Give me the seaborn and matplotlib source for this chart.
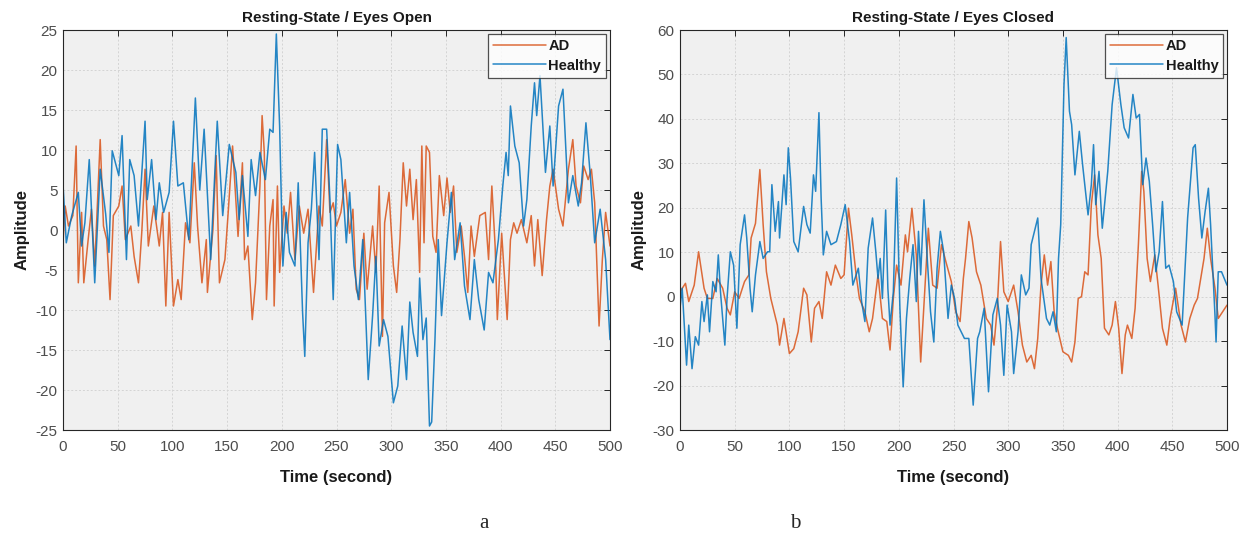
import matplotlib
matplotlib.use('Agg')
import matplotlib.pyplot as plt
import numpy as np
import pandas as pd
import seaborn as sns

# ---------- data (time in s, amplitude) ----------
# Eyes open, AD
eo_ad_t = [0, 2, 5, 9, 12, 14, 17, 19, 23, 26, 29, 34, 37, 40, 43, 46, 51, 54, 57, 62,
           65, 69, 72, 75, 78, 83, 88, 91, 94, 97, 101, 105, 108, 112, 116, 120, 123, 127,
           131, 132, 137, 140, 143, 148, 151, 155, 160, 164, 166, 169, 173, 176, 180, 182,
           184, 186, 189, 192, 193, 196, 198, 202, 205, 208, 212, 216, 220, 224, 229, 234,
           237, 241, 244, 247, 250, 254, 258, 262, 265, 268, 271, 275, 278, 283, 286, 289,
           292, 294, 298, 302, 305, 308, 311, 314, 317, 320, 323, 326, 328, 330, 332, 335,
           338, 341, 344, 348, 351, 354, 357, 360, 364, 367, 370, 373, 376, 381, 386, 389,
           392, 395, 397, 401, 406, 409, 412, 415, 419, 424, 428, 431, 434, 438, 442, 445,
           448, 453, 457, 462, 466, 469, 473, 476, 480, 483, 486, 490, 493, 496, 500]
eo_ad_v = [-1.6, 3, 0.5, 1.8, 10.5, -6.6, 2.2, -6.6, -1.2, 2.6, -4.5, 11.3, 0.5, -1.2, -8.7,
           1.8, 3, 5.5, -1.2, 0.5, -3.3, -6.6, -0.3, 7.6, -2, 3, -2, 2.2, -9.5, 2.2, -9.5,
           -6.2, -8.7, 0.9, -1.6, 8.4, 0.5, -6.6, -1.2, -7.8, 0, 9.3, -6.6, -3.7, 2.2, 10.5,
           -0.8, 8.4, -3.7, -2, -11.2, -6.6, 5.5, 14.3, 9.7, -8.7, 0.5, 3.8, -9.5, 5.5, -5.3,
           3, -0.4, 4.7, -3.7, 3, -0.4, 2.6, -7.8, 3, 0.5, 11.3, 2.2, 3.4, 0.5, 2.2, 6.3, -0.4,
           2.6, -7.4, -8.7, -0.4, -7.4, 0.5, -5.3, 5.5, -13.3, 0.9, 4.7, -4.5, -7.8, -1.2, 8.4,
           3, 7.6, 1.3, 6.3, -5.3, 10.5, -1.6, 10.5, 9.7, -0.8, -2.8, 6.8, 1.8, 6.5, 2.2, 5.5,
           -2.8, 0.5, -3.3, -7.8, 0.5, -3.3, 1.8, 2.2, -3.7, 5.5, -2, -11.2, -0.4, -11.2, -1.2,
           0.9, -0.4, 1.3, -1.6, 1.8, -4.5, 1.3, -5.7, 1.3, 5.5, 7.6, 2.6, 0.5, 7.6, 11.3, 5.5,
           3.4, 8, 6.3, 7.6, 3.4, -12, -3.7, 2.2, -2]

# Eyes open, Healthy
eo_hc_t = [0, 3, 8, 14, 17, 20, 24, 29, 34, 39, 42, 45, 51, 54, 58, 61, 65, 69, 75, 77,
           81, 85, 88, 92, 97, 101, 105, 110, 115, 121, 125, 129, 135, 141, 146, 152, 158,
           161, 164, 169, 172, 176, 180, 185, 189, 192, 195, 198, 201, 204, 207, 212, 215,
           219, 221, 224, 227, 230, 234, 237, 241, 244, 247, 251, 254, 259, 262, 266, 270,
           274, 279, 283, 286, 289, 293, 297, 302, 306, 310, 314, 317, 320, 324, 326, 329,
           332, 335, 337, 340, 343, 346, 351, 355, 358, 363, 367, 372, 376, 380, 385, 389,
           393, 398, 402, 405, 407, 409, 413, 417, 421, 424, 428, 431, 433, 436, 441, 445,
           448, 453, 457, 462, 466, 471, 474, 478, 482, 486, 491, 496, 500]
eo_hc_v = [5.7, -1.6, 1.8, 4.7, -2, 0.9, 8.8, -6.6, 7.6, 2, -2.8, 9.9, 6.8, 11.8, -3.7,
           8.8, 6.8, 0.5, 13.6, 3.8, 8.8, 1.3, 5.9, 2.2, 4.7, 13.6, 5.5, 5.9, -1.2, 16.5, 5,
           12.6, -3.7, 13.6, 1.8, 10.7, 7.2, 1.3, 6.8, -0.8, 8.8, 4.3, 9.7, 6.3, 12.6, 12.2,
           24.5, 13, -4.5, 2.2, -2.8, -4.5, 5.9, -10.3, -15.8, -1.6, 2.6, 9.7, -3.7, 12.6,
           12.6, 3.8, -8.7, 10.7, 8.8, -1.6, 4.7, -4.5, -8.7, -1.2, -18.7, -10.7, -3.3, -14.5,
           -11.2, -13.3, -21.6, -19.5, -12, -18.7, -9, -12.8, -15.8, -6, -13.7, -11, -24.5,
           -24, -13.7, -1.2, -10.7, -1.6, 4.7, -3.7, 0.9, -7, -11.2, -3.7, -8.7, -12.5, -5.3,
           -6.6, -1.2, 5.5, 9.7, 6.8, 15.5, 10.5, 8.4, 0.5, 3.8, 13, 18.4, 14.3, 19.3, 7.2, 13,
           5.5, 15.5, 17.6, 3.4, 6.8, 3, 5.9, 13.4, 6.8, -1.6, 2.6, -3.7, -13.7]

# Eyes closed, AD
ec_ad_t = [0, 5, 8, 13, 17, 22, 25, 30, 34, 39, 43, 46, 50, 54, 59, 63, 65, 69, 73, 76,
           79, 83, 86, 89, 91, 95, 100, 104, 108, 113, 116, 120, 123, 127, 130, 134, 138,
           142, 147, 150, 154, 157, 161, 164, 169, 173, 176, 181, 185, 189, 192, 195, 198,
           202, 206, 208, 212, 216, 220, 223, 227, 231, 235, 239, 243, 248, 252, 256, 259,
           261, 264, 267, 271, 275, 280, 284, 287, 290, 293, 296, 300, 305, 309, 313, 317,
           321, 324, 327, 330, 333, 336, 339, 342, 345, 350, 355, 358, 361, 364, 367, 370,
           373, 376, 379, 382, 385, 388, 392, 395, 398, 401, 404, 407, 409, 413, 416, 419,
           422, 424, 427, 430, 434, 437, 441, 445, 448, 453, 458, 462, 466, 470, 473, 476,
           479, 482, 485, 489, 492, 496, 500]
ec_ad_v = [1.1, 3, -1.1, 2.6, 10.1, 1.9, -0.4, -0.4, 4.1, 1.9, -2.6, -4.1, 1.1, -0.4, 3.4,
           4.9, 13.2, 16.5, 28.6, 16.2, 5.6, -0.4, -3.4, -6.4, -10.9, -4.9, -12.8, -11.7,
           -7.9, 1.9, 0.4, -10.2, -2.6, -1.1, -4.9, 5.6, 2.6, 7.1, 4.1, 4.9, 19.9, 13.9, 4.9,
           -0.4, -3.4, -7.9, -4.9, 4.9, -4.9, -5.6, -12, -0.4, 7.1, 2.6, 13.9, 10.1, 19.9,
           9.4, -14.7, -1.9, 15.4, 2.6, 1.9, 11.7, 7.9, 3.4, -3.4, -5.6, 4.1, 8.6, 16.9, 13.2,
           5.6, 2.6, -4.9, -6.4, -10.9, -2.6, 12.4, 1.1, -1.1, 2.6, -3.4, -10.9, -14.7, -13.2,
           -16.2, -9.4, 2.6, 9.4, 2.6, 7.9, -3.4, -7.1, -12.4, -13.2, -14.7, -10.2, -0.4, 0,
           5.6, 4.9, 20.7, 27.4, 13.9, 8.6, -7.1, -8.6, -6.4, -1.1, -7.1, -17.3, -8.6, -6.4,
           -9.4, -2.6, 11.7, 28.2, 23.7, 8.6, 3.4, 9.4, 2.6, -7.1, -10.9, -4.9, 1.9, -6.4,
           -10.2, -4.9, -1.9, -0.4, 4.1, 8.6, 15.4, 8.6, 1.9, -4.9, -3.4, -1.9]

# Eyes closed, Healthy
ec_hc_t = [0, 2, 6, 8, 11, 14, 17, 20, 22, 25, 27, 30, 33, 35, 37, 41, 43, 46, 49, 52,
           55, 59, 61, 64, 66, 69, 73, 76, 80, 82, 84, 87, 90, 91, 95, 97, 99, 101, 104,
           108, 113, 116, 119, 122, 124, 127, 129, 131, 134, 138, 143, 147, 151, 155, 158,
           163, 166, 169, 172, 176, 179, 181, 183, 185, 188, 190, 192, 195, 198, 201, 204,
           207, 210, 213, 216, 218, 220, 223, 226, 229, 232, 235, 238, 241, 245, 248, 251,
           254, 257, 260, 264, 268, 272, 274, 278, 282, 286, 290, 293, 296, 299, 303, 305,
           309, 312, 316, 319, 321, 324, 327, 330, 335, 338, 341, 344, 346, 348, 351, 353,
           356, 358, 361, 365, 368, 373, 376, 378, 380, 383, 386, 391, 395, 399, 403, 406,
           410, 414, 417, 420, 423, 426, 429, 432, 435, 438, 441, 444, 447, 451, 454, 459,
           464, 469, 471, 474, 477, 480, 483, 485, 489, 490, 492, 495, 500]
ec_hc_v = [-2.6, 1.9, -15.4, -6.4, -16.2, -9, -10.9, -1.1, -5.6, 0.4, -7.9, 3.4, 1.1, 9.4,
           1.1, -10.9, -0.4, 10.1, 7.1, -7.1, 11.7, 18.4, 13.2, 1.9, -3.4, 4.9, 12.4, 8.6,
           10.1, 10.1, 25.2, 14.7, 21.4, 13.2, 27.4, 20.7, 33.5, 26.7, 12.4, 10.1, 20.3, 16.2,
           14.3, 27.4, 23.7, 41.4, 22.2, 9.4, 14.7, 11.7, 12.4, 16.2, 20.7, 12.4, 2.6, 6.4,
           -1.1, -5.6, 10.9, 17.7, 10.1, 4.1, 8.6, -0.4, 19.5, 1.9, -6.4, 1.1, 26.7, -2.6,
           -20.3, -4.9, 4.1, 11.7, -1.1, 14.7, 4.9, 21.8, 8.6, -3.4, -10.2, 6.4, 14.7, 10.1,
           -4.9, 2.6, -0.4, -6.4, -7.9, -9.4, -9.4, -24.4, -9.4, -7.9, -2.6, -21.4, -4.1,
           -0.4, -6.4, -17.7, -1.9, -7.9, -17.3, -7.9, 4.9, 0.4, 1.9, 11.7, 14.7, 17.7, 4.1,
           -4.9, -6.4, -3.4, -7.9, 8.6, 16.2, 47.7, 58.3, 41.7, 38.7, 27.4, 37.2, 29.7, 18.4,
           25.2, 34.2, 20.7, 28.2, 15.4, 28.2, 43.2, 51.5, 43.2, 38, 35.7, 45.5, 40.2, 41,
           25.2, 31.2, 25.9, 16.2, 5.6, 10.1, 21.4, 6.4, 7.1, 3.4, -3.4, -6.4, 17.7, 33.5,
           34.2, 22.2, 13.2, 19.2, 24.4, 16.2, -4.1, -10.2, 5.6, 5.6, 2.6]

group_names = ['AD', 'Healthy']
panel_titles = ['Resting-State / Eyes Open', 'Resting-State / Eyes Closed']
panel_letters = ['a', 'b']
ylims = [(-25, 25), (-30, 60)]
ysteps = [5, 10]

AD_COLOR = '#D95319'
HC_COLOR = '#0072BD'
AX_COLOR = '#262626'
TICK_COLOR = '#4d4d4d'


def make_frame(ad_t, ad_v, hc_t, hc_v):
    d1 = pd.DataFrame({'Time': ad_t, 'Amplitude': ad_v, 'Group': group_names[0]})
    d2 = pd.DataFrame({'Time': hc_t, 'Amplitude': hc_v, 'Group': group_names[1]})
    return pd.concat([d1, d2], ignore_index=True)


frames = [make_frame(eo_ad_t, eo_ad_v, eo_hc_t, eo_hc_v),
          make_frame(ec_ad_t, ec_ad_v, ec_hc_t, ec_hc_v)]

sns.set_style('white')
plt.rcParams['font.family'] = ['Liberation Sans', 'DejaVu Sans']
plt.rcParams['axes.unicode_minus'] = False

fig = plt.figure(figsize=(12.48, 5.36), dpi=100)
ax_boxes = [[63 / 1248, 106 / 536, 547 / 1248, 400 / 536],
            [680 / 1248, 106 / 536, 547 / 1248, 400 / 536]]

for i in range(2):
    ax = fig.add_axes(ax_boxes[i])
    ax.set_facecolor('#f0f0f0')
    sns.lineplot(data=frames[i], x='Time', y='Amplitude', hue='Group',
                 palette={'AD': AD_COLOR, 'Healthy': HC_COLOR},
                 estimator=None, linewidth=1.1, alpha=0.85, ax=ax)
    ax.set_xlim(0, 500)
    ax.set_ylim(*ylims[i])
    ax.set_xticks(np.arange(0, 501, 50))
    ax.set_yticks(np.arange(ylims[i][0], ylims[i][1] + 1, ysteps[i]))
    ax.grid(True, color='#d4d4d4', linestyle=(0, (2, 2)), linewidth=0.7)
    ax.set_axisbelow(True)
    for s in ax.spines.values():
        s.set_color(AX_COLOR)
        s.set_linewidth(0.8)
    ax.tick_params(direction='in', length=4, width=0.7, color=AX_COLOR,
                   labelcolor=TICK_COLOR, labelsize=11, top=True, right=True)
    ax.tick_params(axis='x', pad=7)
    ax.tick_params(axis='y', pad=4)
    ax.set_title(panel_titles[i], fontsize=11, fontweight='bold', color='#1a1a1a', pad=6)
    ax.set_xlabel('Time (second)', fontsize=12, fontweight='bold', color='#1a1a1a', labelpad=12)
    ax.set_ylabel('Amplitude', fontsize=12, fontweight='bold', color='#1a1a1a', labelpad=4)
    leg = ax.legend(loc='upper right', fontsize=10.5, frameon=True, fancybox=False,
                    handlelength=3.6, borderaxespad=0.25, borderpad=0.35, labelspacing=0.4,
                    handletextpad=0.2)
    leg.get_frame().set_edgecolor(AX_COLOR)
    leg.get_frame().set_facecolor('white')
    leg.get_frame().set_linewidth(0.9)
    for txt in leg.get_texts():
        txt.set_fontweight('bold')
        txt.set_color('#1a1a1a')

fig.text(484 / 1248, 1 - 523 / 536, panel_letters[0], fontsize=15,
         family='Liberation Serif', ha='center', va='center')
fig.text(795 / 1248, 1 - 523 / 536, panel_letters[1], fontsize=15,
         family='Liberation Serif', ha='center', va='center')

fig.savefig('out.png', dpi=100)
